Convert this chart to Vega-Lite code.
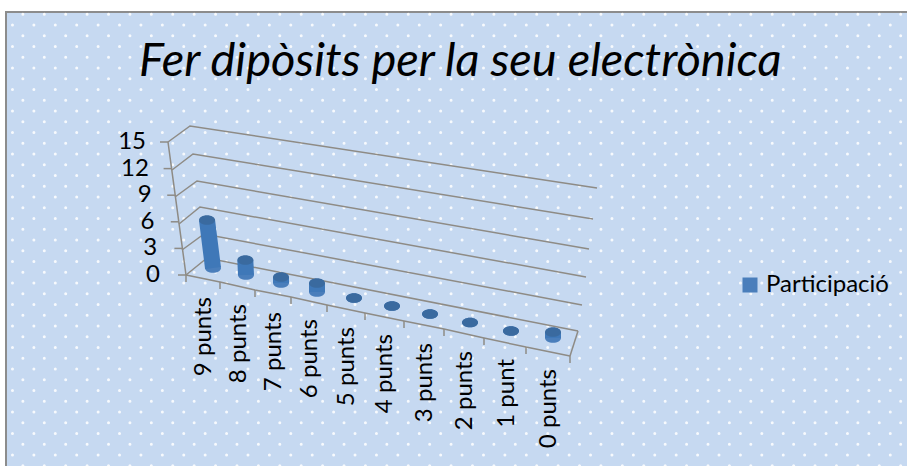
{
"$schema":"https://vega.github.io/schema/vega-lite/v6.json",
"width":907,"height":466,"padding":0,"autosize":"none","background":"#ffffff",
"view":{"stroke":null},
"title":{"text":"Fer dipòsits per la seu electrònica","font":"Lato","fontSize":47,"fontStyle":"italic","fontWeight":"normal","color":"#000000","anchor":"start","frame":"group","dx":139,"offset":-123,"baseline":"alphabetic"},
"datasets":{
"columnes":[
{"categoria":"9 punts","ordre":0,"base":0,"participacio":6,"serie":"Participació"},
{"categoria":"8 punts","ordre":1,"base":0,"participacio":2,"serie":"Participació"},
{"categoria":"7 punts","ordre":2,"base":0,"participacio":1,"serie":"Participació"},
{"categoria":"6 punts","ordre":3,"base":0,"participacio":1,"serie":"Participació"},
{"categoria":"5 punts","ordre":4,"base":0,"participacio":0,"serie":"Participació"},
{"categoria":"4 punts","ordre":5,"base":0,"participacio":0,"serie":"Participació"},
{"categoria":"3 punts","ordre":6,"base":0,"participacio":0,"serie":"Participació"},
{"categoria":"2 punts","ordre":7,"base":0,"participacio":0,"serie":"Participació"},
{"categoria":"1 punt","ordre":8,"base":0,"participacio":0,"serie":"Participació"},
{"categoria":"0 punts","ordre":9,"base":0,"participacio":1,"serie":"Participació"}
],
"graella":[
{"nivell":0,"extrem":0},{"nivell":0,"extrem":1},{"nivell":0,"extrem":2},
{"nivell":3,"extrem":0},{"nivell":3,"extrem":1},{"nivell":3,"extrem":2},
{"nivell":6,"extrem":0},{"nivell":6,"extrem":1},{"nivell":6,"extrem":2},
{"nivell":9,"extrem":0},{"nivell":9,"extrem":1},{"nivell":9,"extrem":2},
{"nivell":12,"extrem":0},{"nivell":12,"extrem":1},{"nivell":12,"extrem":2},
{"nivell":15,"extrem":0},{"nivell":15,"extrem":1},{"nivell":15,"extrem":2}
],
"fronteres":[{"f":0},{"f":1},{"f":2},{"f":3},{"f":4},{"f":5},{"f":6},{"f":7},{"f":8},{"f":9},{"f":10}],
"filesA":[{"fila":0},{"fila":2},{"fila":4},{"fila":6},{"fila":8},{"fila":10},{"fila":12},{"fila":14},{"fila":16},{"fila":18},{"fila":20},{"fila":22},{"fila":24},{"fila":26},{"fila":28},{"fila":30},{"fila":32},{"fila":34},{"fila":36},{"fila":38},{"fila":40},{"fila":42}],
"filesB":[{"fila":1},{"fila":3},{"fila":5},{"fila":7},{"fila":9},{"fila":11},{"fila":13},{"fila":15},{"fila":17},{"fila":19},{"fila":21},{"fila":23},{"fila":25},{"fila":27},{"fila":29},{"fila":31},{"fila":33},{"fila":35},{"fila":37},{"fila":39},{"fila":41}]
},
"resolve":{"scale":{"x":"independent","y":"independent"}},
"layer":[
{"data":{"values":[{"marc":"fons"}]},"mark":{"type":"rect","fill":"#C6D9F1","stroke":"#8c8c8c","strokeWidth":2},
"encoding":{"x":{"datum":6,"type":"quantitative","axis":null,"scale":{"domain":[0,907],"range":[0,907],"nice":false}},"x2":{"datum":912},
"y":{"datum":12,"type":"quantitative","axis":null,"scale":{"domain":[0,466],"range":[0,466],"nice":false}},"y2":{"datum":472}}},
{"data":{"name":"filesA"},"mark":{"type":"rule","stroke":"#ffffff","strokeWidth":3,"strokeCap":"round","strokeDash":[0.01,21.4],"strokeDashOffset":15.1,"opacity":0.85},
"encoding":{"y":{"field":"fila","type":"quantitative","axis":null,"scale":{"domain":[0,42],"range":[14.3,465.8],"nice":false}}}},
{"data":{"name":"filesB"},"mark":{"type":"rule","stroke":"#ffffff","strokeWidth":3,"strokeCap":"round","strokeDash":[0.01,21.4],"strokeDashOffset":4.7,"opacity":0.85},
"encoding":{"y":{"field":"fila","type":"quantitative","axis":null,"scale":{"domain":[0,42],"range":[14.3,465.8],"nice":false}}}},
{"data":{"name":"graella"},"transform":[{"filter":{"field":"nivell","equal":15}}],"mark":{"type":"line","stroke":"#8e8b85","strokeWidth":1.5},
"encoding":{"x":{"field":"extrem","type":"quantitative","axis":null,"scale":{"domain":[0,1,2],"range":[168,190,597],"nice":false}},"y":{"field":"extrem","type":"quantitative","axis":null,"scale":{"domain":[0,1,2],"range":[142,126,188],"nice":false}}}},
{"data":{"name":"graella"},"transform":[{"filter":{"field":"nivell","equal":12}}],"mark":{"type":"line","stroke":"#8e8b85","strokeWidth":1.5},
"encoding":{"x":{"field":"extrem","type":"quantitative","axis":null,"scale":{"domain":[0,1,2],"range":[172,193,593],"nice":false}},"y":{"field":"extrem","type":"quantitative","axis":null,"scale":{"domain":[0,1,2],"range":[170,154,219],"nice":false}}}},
{"data":{"name":"graella"},"transform":[{"filter":{"field":"nivell","equal":9}}],"mark":{"type":"line","stroke":"#8e8b85","strokeWidth":1.5},
"encoding":{"x":{"field":"extrem","type":"quantitative","axis":null,"scale":{"domain":[0,1,2],"range":[175,197,589],"nice":false}},"y":{"field":"extrem","type":"quantitative","axis":null,"scale":{"domain":[0,1,2],"range":[197,181,249],"nice":false}}}},
{"data":{"name":"graella"},"transform":[{"filter":{"field":"nivell","equal":6}}],"mark":{"type":"line","stroke":"#8e8b85","strokeWidth":1.5},
"encoding":{"x":{"field":"extrem","type":"quantitative","axis":null,"scale":{"domain":[0,1,2],"range":[179,200,586],"nice":false}},"y":{"field":"extrem","type":"quantitative","axis":null,"scale":{"domain":[0,1,2],"range":[224,207,277],"nice":false}}}},
{"data":{"name":"graella"},"transform":[{"filter":{"field":"nivell","equal":3}}],"mark":{"type":"line","stroke":"#8e8b85","strokeWidth":1.5},
"encoding":{"x":{"field":"extrem","type":"quantitative","axis":null,"scale":{"domain":[0,1,2],"range":[182,204,582],"nice":false}},"y":{"field":"extrem","type":"quantitative","axis":null,"scale":{"domain":[0,1,2],"range":[250,234,305],"nice":false}}}},
{"data":{"name":"graella"},"transform":[{"filter":{"field":"nivell","equal":0}}],"mark":{"type":"line","stroke":"#8e8b85","strokeWidth":1.5},
"encoding":{"x":{"field":"extrem","type":"quantitative","axis":null,"scale":{"domain":[0,1,2],"range":[186,207,578],"nice":false}},"y":{"field":"extrem","type":"quantitative","axis":null,"scale":{"domain":[0,1,2],"range":[275,258,331],"nice":false}}}},
{"data":{"name":"graella"},"transform":[{"filter":{"field":"nivell","equal":0}},{"filter":{"field":"extrem","lte":1}}],"mark":{"type":"line","stroke":"#8e8b85","strokeWidth":1.5},
"encoding":{"x":{"field":"extrem","type":"quantitative","axis":null,"scale":{"domain":[0,1],"range":[570,578],"nice":false}},"y":{"field":"extrem","type":"quantitative","axis":null,"scale":{"domain":[0,1],"range":[356,331],"nice":false}}}},
{"data":{"name":"graella"},"transform":[{"filter":{"field":"extrem","equal":0}}],"mark":{"type":"line","stroke":"#8e8b85","strokeWidth":1.5},
"encoding":{"x":{"field":"nivell","type":"quantitative","axis":null,"scale":{"domain":[0,15],"range":[186,168],"nice":false}},
"y":{"field":"nivell","type":"quantitative","axis":null,"scale":{"domain":[0,15],"range":[275,142],"nice":false}}}},
{"data":{"name":"graella"},"transform":[{"filter":{"field":"extrem","equal":0}}],"mark":{"type":"rule","stroke":"#8e8b85","strokeWidth":1.5,"x2Offset":-8},
"encoding":{"x":{"field":"nivell","type":"quantitative","axis":null,"scale":{"domain":[0,15],"range":[186,168],"nice":false}},"x2":{"field":"nivell"},
"y":{"field":"nivell","type":"quantitative","axis":null,"scale":{"domain":[0,15],"range":[275,142],"nice":false}}}},
{"data":{"name":"fronteres"},"mark":{"type":"line","stroke":"#8e8b85","strokeWidth":1.5},
"encoding":{"x":{"field":"f","type":"quantitative","axis":null,"scale":{"domain":[0,1,2,3,4,5,6,7,8,9,10],"range":[186,220,255,291,327,365,404,444,484,526,570],"nice":false}},
"y":{"field":"f","type":"quantitative","axis":null,"scale":{"domain":[0,1,2,3,4,5,6,7,8,9,10],"range":[275,282,290,297,305,313,321,329,338,347,356],"nice":false}}}},
{"data":{"name":"fronteres"},"mark":{"type":"rule","stroke":"#8e8b85","strokeWidth":1.5,"y2Offset":7},
"encoding":{"x":{"field":"f","type":"quantitative","axis":null,"scale":{"domain":[0,1,2,3,4,5,6,7,8,9,10],"range":[186,220,255,291,327,365,404,444,484,526,570],"nice":false}},
"y":{"field":"f","type":"quantitative","axis":null,"scale":{"domain":[0,1,2,3,4,5,6,7,8,9,10],"range":[275,282,290,297,305,313,321,329,338,347,356],"nice":false}},"y2":{"field":"f"}}},
{"data":{"name":"graella"},"transform":[{"filter":{"field":"extrem","equal":0}}],"mark":{"type":"text","font":"Lato","fontSize":24,"align":"right","baseline":"middle","color":"#000000"},
"encoding":{"text":{"field":"nivell","type":"quantitative"},
"x":{"field":"nivell","type":"quantitative","axis":null,"scale":{"domain":[0,15],"range":[160,146],"nice":false}},
"y":{"field":"nivell","type":"quantitative","axis":null,"scale":{"domain":[0,15],"range":[275,142],"nice":false}}}},
{"data":{"name":"columnes"},"mark":{"type":"text","font":"Lato","fontSize":24,"align":"right","baseline":"middle","angle":270,"color":"#000000"},
"encoding":{"text":{"field":"categoria","type":"nominal"},
"x":{"field":"ordre","type":"quantitative","axis":null,"scale":{"domain":[0,1,2,3,4,5,6,7,8,9],"range":[204,238.5,273.5,310,346.5,385,424.5,464.5,506.5,549],"nice":false}},
"y":{"field":"ordre","type":"quantitative","axis":null,"scale":{"domain":[0,1,2,3,4,5,6,7,8,9],"range":[297,304,312,319,327,334,343,351,359,369],"nice":false}}}},
{"data":{"name":"columnes"},"mark":{"type":"point","filled":true,"opacity":1,"size":256,"shape":"M-1,0A1,0.6 0 1 1 1,0A1,0.6 0 1 1 -1,0Z"},
"encoding":{"color":{"field":"serie","type":"nominal","scale":{"domain":["Participació"],"range":["#4A7EBB"]},
"legend":{"title":null,"orient":"none","legendX":738,"legendY":273,"labelFont":"Lato","labelFontSize":24,"labelColor":"#000000","symbolType":"square","symbolSize":225,"symbolStrokeWidth":0,"symbolOpacity":1}},
"x":{"field":"ordre","type":"quantitative","axis":null,"scale":{"domain":[0,1,2,3,4,5,6,7,8,9],"range":[213,246,281,317,354,392,430,470,511,553],"nice":false}},
"y":{"field":"ordre","type":"quantitative","axis":null,"scale":{"domain":[0,1,2,3,4,5,6,7,8,9],"range":[268,275,283,292,298,306,314,322.5,331,338],"nice":false}}}},
{"data":{"name":"columnes"},"transform":[{"filter":{"field":"categoria","equal":"9 punts"}},{"fold":["base","participacio"],"as":["mesura","valor"]}],"mark":{"type":"line","stroke":"#3F78B8","strokeWidth":16},
"encoding":{"x":{"field":"valor","type":"quantitative","axis":null,"scale":{"domain":[0,15],"range":[213,198],"nice":false}},"y":{"field":"valor","type":"quantitative","axis":null,"scale":{"domain":[0,15],"range":[268,148],"nice":false}}}},
{"data":{"name":"columnes"},"transform":[{"filter":{"field":"categoria","equal":"9 punts"}}],"mark":{"type":"point","filled":true,"opacity":1,"color":"#3A6A9F","size":256,"shape":"M-1,0A1,0.6 0 1 1 1,0A1,0.6 0 1 1 -1,0Z"},
"encoding":{"x":{"field":"participacio","type":"quantitative","axis":null,"scale":{"domain":[0,15],"range":[213,198],"nice":false}},"y":{"field":"participacio","type":"quantitative","axis":null,"scale":{"domain":[0,15],"range":[268,148],"nice":false}}}},
{"data":{"name":"columnes"},"transform":[{"filter":{"field":"categoria","equal":"8 punts"}},{"fold":["base","participacio"],"as":["mesura","valor"]}],"mark":{"type":"line","stroke":"#3F78B8","strokeWidth":16},
"encoding":{"x":{"field":"valor","type":"quantitative","axis":null,"scale":{"domain":[0,15],"range":[246,241],"nice":false}},"y":{"field":"valor","type":"quantitative","axis":null,"scale":{"domain":[0,15],"range":[275,163],"nice":false}}}},
{"data":{"name":"columnes"},"transform":[{"filter":{"field":"categoria","equal":"8 punts"}}],"mark":{"type":"point","filled":true,"opacity":1,"color":"#3A6A9F","size":256,"shape":"M-1,0A1,0.6 0 1 1 1,0A1,0.6 0 1 1 -1,0Z"},
"encoding":{"x":{"field":"participacio","type":"quantitative","axis":null,"scale":{"domain":[0,15],"range":[246,241],"nice":false}},"y":{"field":"participacio","type":"quantitative","axis":null,"scale":{"domain":[0,15],"range":[275,163],"nice":false}}}},
{"data":{"name":"columnes"},"transform":[{"filter":{"field":"categoria","equal":"7 punts"}},{"fold":["base","participacio"],"as":["mesura","valor"]}],"mark":{"type":"line","stroke":"#3F78B8","strokeWidth":16},
"encoding":{"x":{"field":"valor","type":"quantitative","axis":null,"scale":{"domain":[0,15],"range":[281,281],"nice":false}},"y":{"field":"valor","type":"quantitative","axis":null,"scale":{"domain":[0,15],"range":[283,193],"nice":false}}}},
{"data":{"name":"columnes"},"transform":[{"filter":{"field":"categoria","equal":"7 punts"}}],"mark":{"type":"point","filled":true,"opacity":1,"color":"#3A6A9F","size":256,"shape":"M-1,0A1,0.6 0 1 1 1,0A1,0.6 0 1 1 -1,0Z"},
"encoding":{"x":{"field":"participacio","type":"quantitative","axis":null,"scale":{"domain":[0,15],"range":[281,281],"nice":false}},"y":{"field":"participacio","type":"quantitative","axis":null,"scale":{"domain":[0,15],"range":[283,193],"nice":false}}}},
{"data":{"name":"columnes"},"transform":[{"filter":{"field":"categoria","equal":"6 punts"}},{"fold":["base","participacio"],"as":["mesura","valor"]}],"mark":{"type":"line","stroke":"#3F78B8","strokeWidth":16},
"encoding":{"x":{"field":"valor","type":"quantitative","axis":null,"scale":{"domain":[0,15],"range":[317,317],"nice":false}},"y":{"field":"valor","type":"quantitative","axis":null,"scale":{"domain":[0,15],"range":[292,157],"nice":false}}}},
{"data":{"name":"columnes"},"transform":[{"filter":{"field":"categoria","equal":"6 punts"}}],"mark":{"type":"point","filled":true,"opacity":1,"color":"#3A6A9F","size":256,"shape":"M-1,0A1,0.6 0 1 1 1,0A1,0.6 0 1 1 -1,0Z"},
"encoding":{"x":{"field":"participacio","type":"quantitative","axis":null,"scale":{"domain":[0,15],"range":[317,317],"nice":false}},"y":{"field":"participacio","type":"quantitative","axis":null,"scale":{"domain":[0,15],"range":[292,157],"nice":false}}}},
{"data":{"name":"columnes"},"transform":[{"filter":{"field":"categoria","equal":"0 punts"}},{"fold":["base","participacio"],"as":["mesura","valor"]}],"mark":{"type":"line","stroke":"#3F78B8","strokeWidth":16},
"encoding":{"x":{"field":"valor","type":"quantitative","axis":null,"scale":{"domain":[0,15],"range":[553,553],"nice":false}},"y":{"field":"valor","type":"quantitative","axis":null,"scale":{"domain":[0,15],"range":[338,248],"nice":false}}}},
{"data":{"name":"columnes"},"transform":[{"filter":{"field":"categoria","equal":"0 punts"}}],"mark":{"type":"point","filled":true,"opacity":1,"color":"#3A6A9F","size":256,"shape":"M-1,0A1,0.6 0 1 1 1,0A1,0.6 0 1 1 -1,0Z"},
"encoding":{"x":{"field":"participacio","type":"quantitative","axis":null,"scale":{"domain":[0,15],"range":[553,553],"nice":false}},"y":{"field":"participacio","type":"quantitative","axis":null,"scale":{"domain":[0,15],"range":[338,248],"nice":false}}}},
{"data":{"name":"columnes"},"transform":[{"filter":{"field":"participacio","equal":0}}],"mark":{"type":"point","filled":true,"opacity":1,"color":"#3A6A9F","size":256,"shape":"M-1,0A1,0.6 0 1 1 1,0A1,0.6 0 1 1 -1,0Z"},
"encoding":{
"x":{"field":"ordre","type":"quantitative","axis":null,"scale":{"domain":[0,1,2,3,4,5,6,7,8,9],"range":[213,246,281,317,354,392,430,470,511,553],"nice":false}},
"y":{"field":"ordre","type":"quantitative","axis":null,"scale":{"domain":[0,1,2,3,4,5,6,7,8,9],"range":[268,275,283,292,298,306,314,322.5,331,338],"nice":false}}}}
]
}
